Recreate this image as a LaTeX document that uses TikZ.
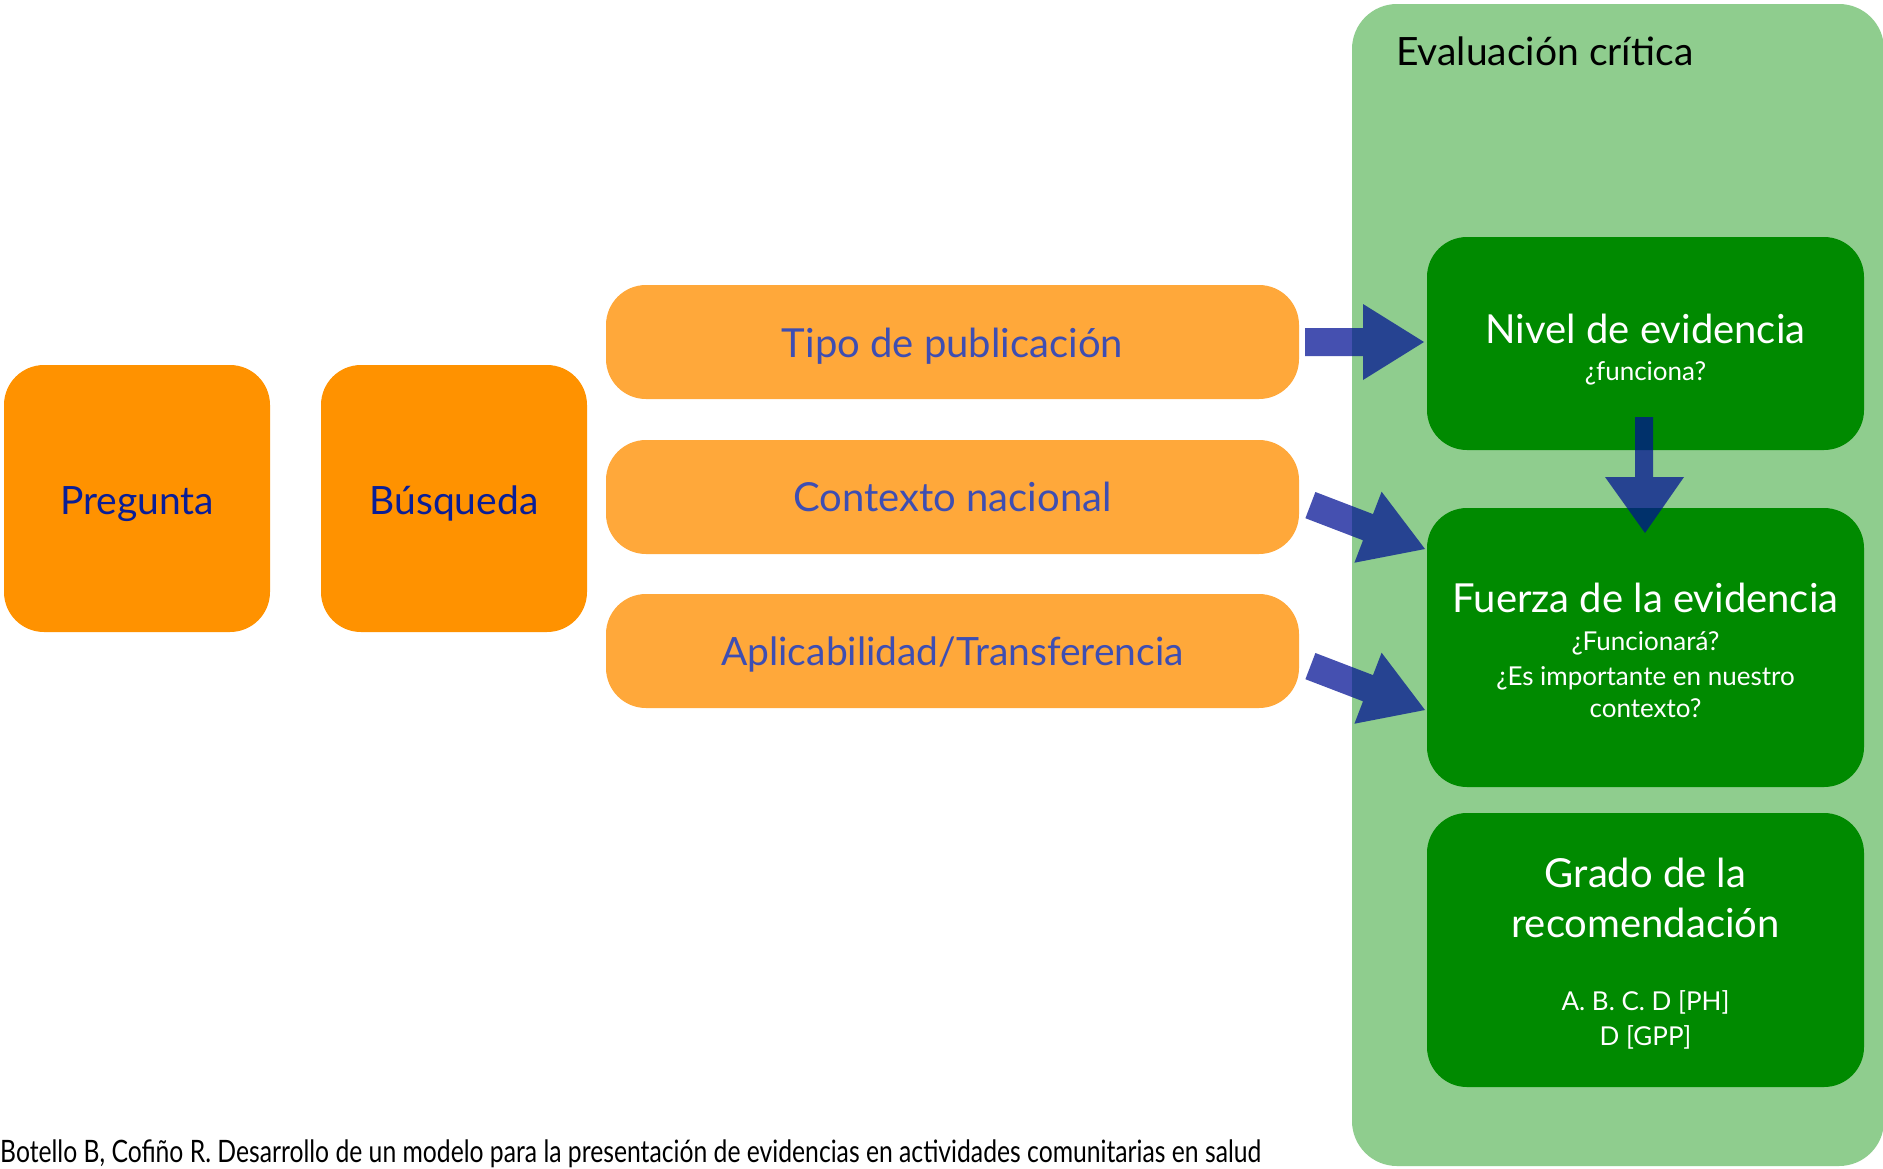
\documentclass[tikz,border=0pt]{standalone}
\usepackage{graphicx}
\usepackage{fontspec}
\setmainfont{Lato}
\newfontfamily\capfont[FakeStretch=0.8]{Lato}
\definecolor{orangeA}{HTML}{FF9200}
\definecolor{orangeB}{HTML}{FFA83A}
\definecolor{navyT}{HTML}{0A1E96}
\definecolor{blueT}{HTML}{3E4EB2}
\definecolor{paleG}{HTML}{8FCD8E}
\definecolor{darkG}{HTML}{008A00}
\definecolor{arrowB}{HTML}{001093}
\begin{document}
\begin{tikzpicture}[x=1pt,y=-1pt,
  box/.style={rectangle, rounded corners=40pt, inner sep=0pt, draw=none},
  txt/.style={inner sep=0pt, anchor=base},
  bigtxt/.style={txt, font=\fontsize{40}{48}\selectfont},
  midtxt/.style={txt, font=\fontsize{39}{47}\selectfont},
  smalltxt/.style={txt, font=\fontsize{26}{31}\selectfont},
  blk/.style={fill=arrowB, fill opacity=0.73},
]
\useasboundingbox (0,0) rectangle (1883,1168);
\fill[white] (0,0) rectangle (1883,1168);

% container
\node[box, fill=paleG, rounded corners=45pt, minimum width=532pt, minimum height=1162pt] (evalbox) at (1618,585) {};
\node[txt, anchor=base west, font=\fontsize{39}{46}\selectfont, text=black] (evaltitle) at (1396,65) {Evaluación crítica};

% left boxes
\node[box, fill=orangeA, minimum width=266pt, minimum height=267pt] (preg) at (137,498.5) {};
\node[box, fill=orangeA, minimum width=266pt, minimum height=267pt] (busq) at (454,498.5) {};
\node[midtxt, text=navyT] (tpreg) at (137,514) {Pregunta};
\node[midtxt, text=navyT] (tbusq) at (454,514) {Búsqueda};

% middle boxes
\node[box, fill=orangeB, minimum width=693pt, minimum height=114pt] (tipo) at (952.5,342) {};
\node[box, fill=orangeB, minimum width=693pt, minimum height=114pt] (ctx) at (952.5,497) {};
\node[box, fill=orangeB, minimum width=693pt, minimum height=114pt] (apl) at (952.5,651) {};
\node[bigtxt, text=blueT] (ttipo) at (952.5,357) {Tipo de publicación};
\node[bigtxt, text=blueT] (tctx) at (952.5,511) {Contexto nacional};
\node[midtxt, text=blueT] (tapl) at (952.5,665) {Aplicabilidad/Transferencia};

% green boxes
\node[box, fill=darkG, minimum width=437pt, minimum height=213pt] (nivel) at (1645.5,343.5) {};
\node[box, fill=darkG, minimum width=437pt, minimum height=279pt] (fuerza) at (1645.5,647.5) {};
\node[box, fill=darkG, minimum width=437pt, minimum height=274pt] (grado) at (1645.5,950) {};

\node[bigtxt, text=white] (tnivel) at (1645.5,343) {Nivel de evidencia};
\node[smalltxt, text=white] (tnivel2) at (1645.5,380) {¿funciona?};
\node[bigtxt, text=white] (tfuerza) at (1645.5,612) {Fuerza de la evidencia};
\node[smalltxt, text=white] (tfuerza2) at (1645.5,650) {¿Funcionará?};
\node[smalltxt, text=white] (tfuerza3) at (1645.5,685) {¿Es importante en nuestro};
\node[smalltxt, text=white] (tfuerza4) at (1645.5,717) {contexto?};
\node[bigtxt, text=white] (tgrado) at (1645.5,887) {Grado de la};
\node[bigtxt, text=white] (tgrado2) at (1645.5,937) {recomendación};
\node[smalltxt, text=white] (tgrado3) at (1645.5,1010) {A. B. C. D [PH]};
\node[smalltxt, text=white] (tgrado4) at (1645.5,1045) {D [GPP]};

% block arrows
\fill[blk] (1305,328) -- (1363,328) -- (1363,304) -- (1424,342) -- (1363,380) -- (1363,356) -- (1305,356) -- cycle;
\fill[blk] (1635,417) -- (1653,417) -- (1653,477) -- (1684,477) -- (1645,533) -- (1605,477) -- (1635,477) -- cycle;
\fill[blk] (1315.4,492.0) -- (1373.0,514.1) -- (1381.6,491.7) -- (1425,549) -- (1354.4,562.7) -- (1363.0,540.3) -- (1305.4,518.2) -- cycle;
\fill[blk, shift={(0,161)}] (1315.4,492.0) -- (1373.0,514.1) -- (1381.6,491.7) -- (1425,549) -- (1354.4,562.7) -- (1363.0,540.3) -- (1305.4,518.2) -- cycle;

% caption
\node[inner sep=0pt, anchor=base west] (caption) at (0,1162) {\resizebox{1261pt}{!}{\capfont\fontsize{27}{32}\selectfont Botello B, Cofiño R. Desarrollo de un modelo para la presentación de evidencias en actividades comunitarias en salud}};
\end{tikzpicture}
\end{document}
